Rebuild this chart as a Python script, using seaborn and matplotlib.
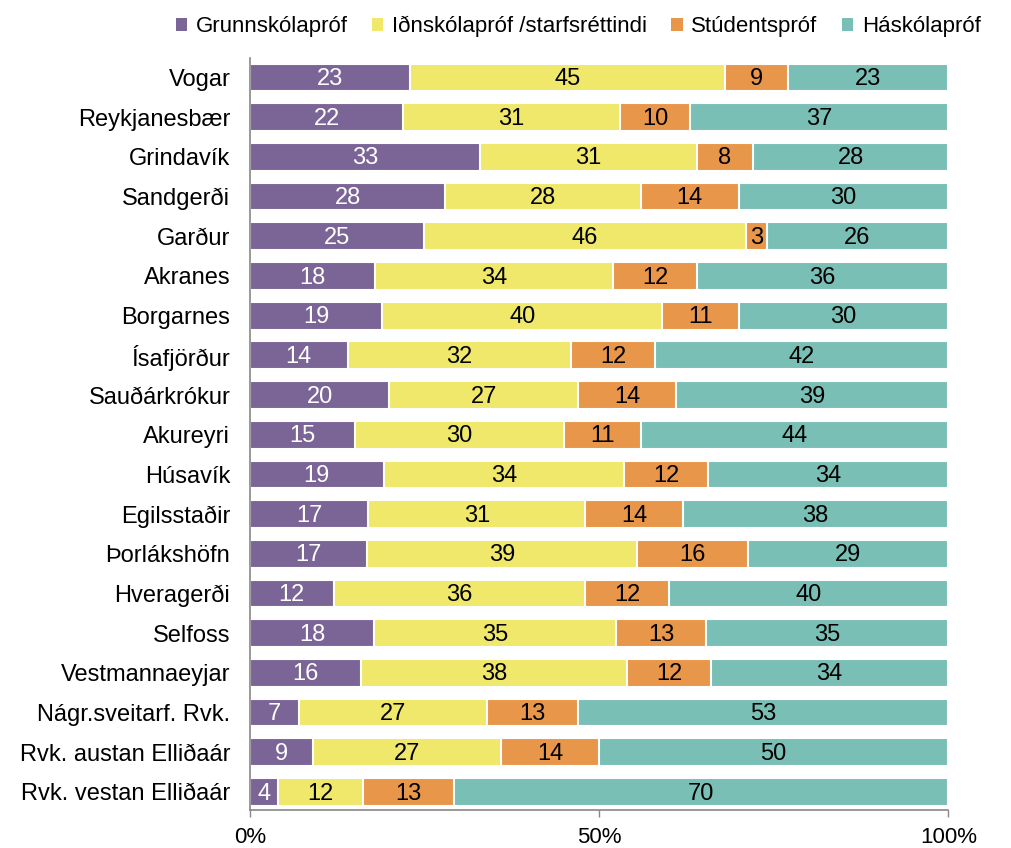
import matplotlib
matplotlib.use("Agg")
import matplotlib.pyplot as plt
import seaborn as sns
import numpy as np
import pandas as pd
from matplotlib.patches import Patch

places = ["Vogar", "Reykjanesbær", "Grindavík", "Sandgerði", "Garður", "Akranes",
          "Borgarnes", "Ísafjörður", "Sauðárkrókur", "Akureyri", "Húsavík",
          "Egilsstaðir", "Þorlákshöfn", "Hveragerði", "Selfoss", "Vestmannaeyjar",
          "Nágr.sveitarf. Rvk.", "Rvk. austan Elliðaár", "Rvk. vestan Elliðaár"]
grunn = [23, 22, 33, 28, 25, 18, 19, 14, 20, 15, 19, 17, 17, 12, 18, 16, 7, 9, 4]
idn = [45, 31, 31, 28, 46, 34, 40, 32, 27, 30, 34, 31, 39, 36, 35, 38, 27, 27, 12]
stud = [9, 10, 8, 14, 3, 12, 11, 12, 14, 11, 12, 14, 16, 12, 13, 12, 13, 14, 13]
hask = [23, 37, 28, 30, 26, 36, 30, 42, 39, 44, 34, 38, 29, 40, 35, 34, 53, 50, 70]
series_names = ["Grunnskólapróf", "Iðnskólapróf /starfsréttindi", "Stúdentspróf", "Háskólapróf"]
colors = ["#7B6596", "#F0E86A", "#E8964A", "#7ABFB5"]
text_colors = ["white", "black", "black", "black"]
xticks = [0, 50, 100]
xticklabels = ["0%", "50%", "100%"]

sns.set_theme(style="white")
plt.rcParams["font.family"] = ["Liberation Sans", "DejaVu Sans"]
plt.rcParams["text.color"] = "black"
plt.rcParams["xtick.color"] = "black"
plt.rcParams["ytick.color"] = "black"

vals = np.array([grunn, idn, stud, hask], dtype=float)
pct = vals / vals.sum(axis=0) * 100
cum = np.cumsum(pct, axis=0)

fig = plt.figure(figsize=(10.11, 8.48), dpi=100)
ax = fig.add_axes([0.247, 0.045, 0.691, 0.887])

for k in range(3, -1, -1):
    df = pd.DataFrame({"place": places, "value": cum[k]})
    sns.barplot(data=df, y="place", x="value", color=colors[k], orient="h",
                width=0.7, edgecolor="white", linewidth=1.5, saturation=1, ax=ax)

for k in range(4):
    starts = cum[k] - pct[k]
    for i in range(len(places)):
        ax.text(starts[i] + pct[k][i] / 2, i + 0.04, f"{int(vals[k][i])}", ha="center", va="center",
                fontsize=17, color=text_colors[k])

ax.set_xlim(0, 100)
ax.set_ylim(18.45, -0.5)
ax.set_xticks(xticks)
ax.set_xticklabels(xticklabels, fontsize=16)
ax.tick_params(axis="x", which="both", bottom=True, length=5, width=1, color="#888888",
               labelcolor="black", pad=7)
ax.tick_params(axis="y", labelsize=17, length=0, pad=14, labelcolor="black")
ax.set_xlabel("")
ax.set_ylabel("")
for s in ["top", "right"]:
    ax.spines[s].set_visible(False)
for s in ["left", "bottom"]:
    ax.spines[s].set_color("#888888")
    ax.spines[s].set_linewidth(1.2)

handles = [Patch(facecolor=c, edgecolor="none") for c in colors]
fig.legend(handles, series_names, loc="upper center", bbox_to_anchor=(0.572, 1.005), ncol=4,
           frameon=False, fontsize=16, handlelength=0.5, handleheight=0.5,
           handletextpad=0.4, columnspacing=1.1, labelcolor="black")

fig.savefig("out.png", dpi=100)
